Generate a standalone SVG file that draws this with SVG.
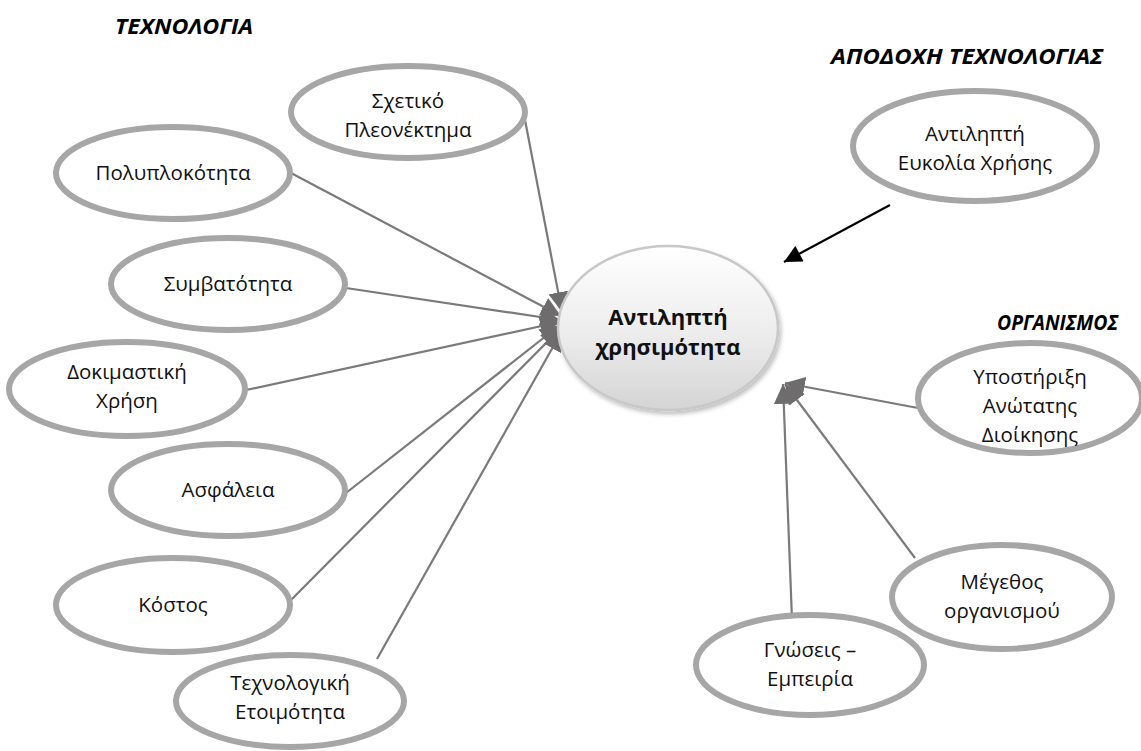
<svg xmlns="http://www.w3.org/2000/svg" width="1141" height="751" viewBox="0 0 1141 751">
  <style>
    .node ellipse { fill: #ffffff; stroke: #a6a6a6; stroke-width: 6; }
    .label { font-family: "Open Sans", "Noto Sans", sans-serif; font-size: 20.5px; fill: #111111; text-anchor: middle; }
    .title { font-family: "Open Sans", "Noto Sans", sans-serif; font-size: 22px; font-weight: bold; font-style: italic; fill: #000000; }
    .main { font-family: "Open Sans", "Noto Sans", sans-serif; font-size: 22px; font-weight: bold; fill: #111111; text-anchor: middle; }
    .link { stroke: #7a7a7a; stroke-width: 2.2; marker-end: url(#grayHead); }
    .link-dark { stroke: #000000; stroke-width: 2.2; marker-end: url(#blackHead); }
  </style>
  <defs>
    <marker id="grayHead" viewBox="0 0 10 10" refX="10" refY="5" markerWidth="9" markerHeight="9" orient="auto">
      <path d="M0,0 L10,5 L0,10 Z" fill="#6e6c6c"/>
    </marker>
    <marker id="blackHead" viewBox="0 0 10 10" refX="10" refY="5" markerWidth="9" markerHeight="8" orient="auto">
      <path d="M0,0 L10,5 L0,10 Z" fill="#000000"/>
    </marker>
    <linearGradient id="centreFill" x1="0" y1="0" x2="0" y2="1">
      <stop offset="0" stop-color="#ffffff"/>
      <stop offset="0.55" stop-color="#ececec"/>
      <stop offset="1" stop-color="#d4d4d4"/>
    </linearGradient>
    <filter id="softShadow" x="-20%" y="-20%" width="140%" height="140%">
      <feDropShadow dx="2" dy="3" stdDeviation="2" flood-color="#000000" flood-opacity="0.25"/>
    </filter>
  </defs>

  <!-- group headings -->
  <text class="title" x="115" y="34" textLength="138" lengthAdjust="spacingAndGlyphs">ΤΕΧΝΟΛΟΓΙΑ</text>
  <text class="title" x="831" y="64" textLength="272" lengthAdjust="spacingAndGlyphs">ΑΠΟΔΟΧΗ ΤΕΧΝΟΛΟΓΙΑΣ</text>
  <text class="title" x="997" y="330" textLength="121" lengthAdjust="spacingAndGlyphs">ΟΡΓΑΝΙΣΜΟΣ</text>

  <!-- connectors -->
  <g id="connectors">
    <line class="link" x1="525" y1="120" x2="562" y2="312"/>
    <line class="link" x1="291" y1="173" x2="561" y2="316"/>
    <line class="link" x1="346" y1="288" x2="560" y2="320"/>
    <line class="link" x1="246" y1="390" x2="560" y2="322"/>
    <line class="link" x1="346" y1="493" x2="560" y2="325"/>
    <line class="link" x1="291" y1="600" x2="561" y2="328"/>
    <line class="link" x1="377" y1="659" x2="562" y2="331"/>
    <line class="link-dark" x1="890" y1="205" x2="784" y2="262"/>
    <line class="link" x1="918" y1="408" x2="785" y2="383"/>
    <line class="link" x1="915" y1="558" x2="785" y2="384"/>
    <line class="link" x1="792" y1="620" x2="783" y2="384"/>
  </g>

  <!-- central concept -->
  <g id="perceived-usefulness">
    <ellipse cx="668" cy="328" rx="110" ry="82" fill="url(#centreFill)" stroke="#c8c8c8" stroke-width="2.5" filter="url(#softShadow)"/>
    <text class="main" x="668" y="325">Αντιληπτή</text>
    <text class="main" x="668" y="355">χρησιμότητα</text>
  </g>

  <!-- technology factors -->
  <g id="relative-advantage" class="node">
    <ellipse cx="408" cy="112" rx="117" ry="46"/>
    <text class="label" x="408" y="108">Σχετικό</text>
    <text class="label" x="408" y="137">Πλεονέκτημα</text>
  </g>
  <g id="complexity" class="node">
    <ellipse cx="173" cy="173" rx="117" ry="46"/>
    <text class="label" x="173" y="180">Πολυπλοκότητα</text>
  </g>
  <g id="compatibility" class="node">
    <ellipse cx="228" cy="284" rx="117" ry="46"/>
    <text class="label" x="228" y="291">Συμβατότητα</text>
  </g>
  <g id="trialability" class="node">
    <ellipse cx="127" cy="389" rx="118" ry="47"/>
    <text class="label" x="127" y="379">Δοκιμαστική</text>
    <text class="label" x="127" y="408">Χρήση</text>
  </g>
  <g id="security" class="node">
    <ellipse cx="228" cy="490" rx="117" ry="46"/>
    <text class="label" x="228" y="497">Ασφάλεια</text>
  </g>
  <g id="cost" class="node">
    <ellipse cx="173" cy="605" rx="117" ry="47"/>
    <text class="label" x="173" y="612">Κόστος</text>
  </g>
  <g id="tech-readiness" class="node">
    <ellipse cx="290" cy="701" rx="114" ry="46"/>
    <text class="label" x="290" y="690">Τεχνολογική</text>
    <text class="label" x="290" y="719">Ετοιμότητα</text>
  </g>

  <!-- technology acceptance -->
  <g id="perceived-ease-of-use" class="node">
    <ellipse cx="975" cy="146" rx="122" ry="55"/>
    <text class="label" x="975" y="141">Αντιληπτή</text>
    <text class="label" x="975" y="170">Ευκολία Χρήσης</text>
  </g>

  <!-- organisation factors -->
  <g id="top-management-support" class="node">
    <ellipse cx="1030" cy="398" rx="112" ry="55"/>
    <text class="label" x="1030" y="384">Υποστήριξη</text>
    <text class="label" x="1030" y="413">Ανώτατης</text>
    <text class="label" x="1030" y="442">Διοίκησης</text>
  </g>
  <g id="organisation-size" class="node">
    <ellipse cx="1002" cy="597" rx="110" ry="52"/>
    <text class="label" x="1002" y="589">Μέγεθος</text>
    <text class="label" x="1002" y="618">οργανισμού</text>
  </g>
  <g id="knowledge-experience" class="node">
    <ellipse cx="810" cy="665" rx="114" ry="50"/>
    <text class="label" x="810" y="657">Γνώσεις –</text>
    <text class="label" x="810" y="686">Εμπειρία</text>
  </g>
</svg>
